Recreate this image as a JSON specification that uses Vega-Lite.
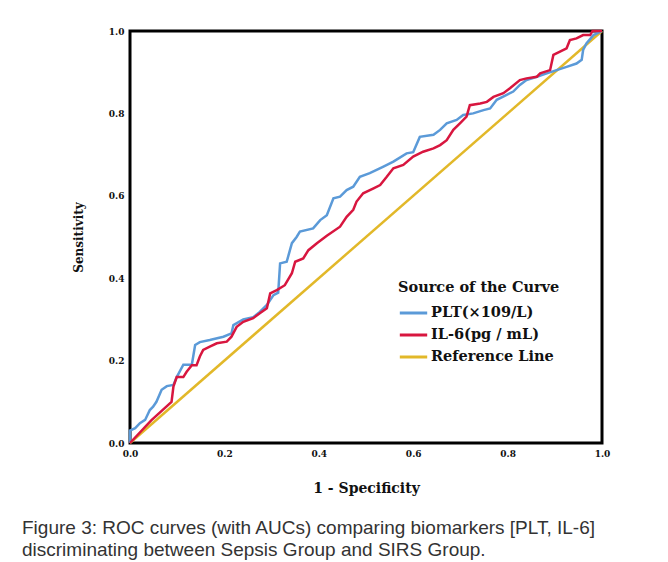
{
  "$schema": "https://vega.github.io/schema/vega-lite/v6.json",
  "width": 472,
  "height": 412,
  "autosize": {"type": "none"},
  "padding": {"left": 130, "top": 31, "right": 66, "bottom": 119},
  "background": "white",
  "title": {
    "text": ["Figure 3: ROC curves (with AUCs) comparing biomarkers [PLT, IL-6]", "discriminating between Sepsis Group and SIRS Group."],
    "orient": "bottom",
    "anchor": "start",
    "frame": "group",
    "dx": -108,
    "offset": 24,
    "font": "Liberation Sans",
    "fontSize": 19,
    "fontWeight": "normal",
    "color": "#333333",
    "lineHeight": 22
  },
  "layer": [
    {
      "data": {"values": [
        {"series": "Reference Line", "fpr": 0, "tpr": 0, "i": 0},
        {"series": "Reference Line", "fpr": 1, "tpr": 1, "i": 1}
      ]},
      "mark": {"type": "line", "strokeWidth": 2.5},
      "encoding": {
        "x": {"field": "fpr", "type": "quantitative"},
        "y": {"field": "tpr", "type": "quantitative"},
        "color": {"field": "series", "type": "nominal"},
        "order": {"field": "i", "type": "quantitative"}
      }
    },
    {
      "data": {"values": [
        {"series": "PLT(×109/L)", "i": 0, "fpr": 0, "tpr": 0},
        {"series": "PLT(×109/L)", "i": 1, "fpr": 0, "tpr": 0.03},
        {"series": "PLT(×109/L)", "i": 2, "fpr": 0.011, "tpr": 0.036},
        {"series": "PLT(×109/L)", "i": 3, "fpr": 0.021, "tpr": 0.048},
        {"series": "PLT(×109/L)", "i": 4, "fpr": 0.032, "tpr": 0.056},
        {"series": "PLT(×109/L)", "i": 5, "fpr": 0.042, "tpr": 0.08},
        {"series": "PLT(×109/L)", "i": 6, "fpr": 0.049, "tpr": 0.088},
        {"series": "PLT(×109/L)", "i": 7, "fpr": 0.056, "tpr": 0.1},
        {"series": "PLT(×109/L)", "i": 8, "fpr": 0.067, "tpr": 0.129},
        {"series": "PLT(×109/L)", "i": 9, "fpr": 0.078, "tpr": 0.138},
        {"series": "PLT(×109/L)", "i": 10, "fpr": 0.092, "tpr": 0.141},
        {"series": "PLT(×109/L)", "i": 11, "fpr": 0.099, "tpr": 0.16},
        {"series": "PLT(×109/L)", "i": 12, "fpr": 0.113, "tpr": 0.19},
        {"series": "PLT(×109/L)", "i": 13, "fpr": 0.131, "tpr": 0.19},
        {"series": "PLT(×109/L)", "i": 14, "fpr": 0.138, "tpr": 0.238},
        {"series": "PLT(×109/L)", "i": 15, "fpr": 0.148, "tpr": 0.245},
        {"series": "PLT(×109/L)", "i": 16, "fpr": 0.169, "tpr": 0.25},
        {"series": "PLT(×109/L)", "i": 17, "fpr": 0.198, "tpr": 0.258},
        {"series": "PLT(×109/L)", "i": 18, "fpr": 0.215, "tpr": 0.266},
        {"series": "PLT(×109/L)", "i": 19, "fpr": 0.219, "tpr": 0.286},
        {"series": "PLT(×109/L)", "i": 20, "fpr": 0.24, "tpr": 0.3},
        {"series": "PLT(×109/L)", "i": 21, "fpr": 0.261, "tpr": 0.305},
        {"series": "PLT(×109/L)", "i": 22, "fpr": 0.275, "tpr": 0.318},
        {"series": "PLT(×109/L)", "i": 23, "fpr": 0.29, "tpr": 0.335},
        {"series": "PLT(×109/L)", "i": 24, "fpr": 0.304, "tpr": 0.359},
        {"series": "PLT(×109/L)", "i": 25, "fpr": 0.314, "tpr": 0.365},
        {"series": "PLT(×109/L)", "i": 26, "fpr": 0.318, "tpr": 0.436},
        {"series": "PLT(×109/L)", "i": 27, "fpr": 0.332, "tpr": 0.44},
        {"series": "PLT(×109/L)", "i": 28, "fpr": 0.343, "tpr": 0.485},
        {"series": "PLT(×109/L)", "i": 29, "fpr": 0.353, "tpr": 0.5},
        {"series": "PLT(×109/L)", "i": 30, "fpr": 0.36, "tpr": 0.513},
        {"series": "PLT(×109/L)", "i": 31, "fpr": 0.388, "tpr": 0.521},
        {"series": "PLT(×109/L)", "i": 32, "fpr": 0.403, "tpr": 0.541},
        {"series": "PLT(×109/L)", "i": 33, "fpr": 0.417, "tpr": 0.553},
        {"series": "PLT(×109/L)", "i": 34, "fpr": 0.431, "tpr": 0.594},
        {"series": "PLT(×109/L)", "i": 35, "fpr": 0.445, "tpr": 0.598},
        {"series": "PLT(×109/L)", "i": 36, "fpr": 0.459, "tpr": 0.614},
        {"series": "PLT(×109/L)", "i": 37, "fpr": 0.473, "tpr": 0.622},
        {"series": "PLT(×109/L)", "i": 38, "fpr": 0.487, "tpr": 0.646},
        {"series": "PLT(×109/L)", "i": 39, "fpr": 0.508, "tpr": 0.655},
        {"series": "PLT(×109/L)", "i": 40, "fpr": 0.537, "tpr": 0.671},
        {"series": "PLT(×109/L)", "i": 41, "fpr": 0.558, "tpr": 0.683},
        {"series": "PLT(×109/L)", "i": 42, "fpr": 0.586, "tpr": 0.703},
        {"series": "PLT(×109/L)", "i": 43, "fpr": 0.6, "tpr": 0.706},
        {"series": "PLT(×109/L)", "i": 44, "fpr": 0.614, "tpr": 0.743},
        {"series": "PLT(×109/L)", "i": 45, "fpr": 0.643, "tpr": 0.748},
        {"series": "PLT(×109/L)", "i": 46, "fpr": 0.657, "tpr": 0.76},
        {"series": "PLT(×109/L)", "i": 47, "fpr": 0.671, "tpr": 0.776},
        {"series": "PLT(×109/L)", "i": 48, "fpr": 0.692, "tpr": 0.784},
        {"series": "PLT(×109/L)", "i": 49, "fpr": 0.706, "tpr": 0.796},
        {"series": "PLT(×109/L)", "i": 50, "fpr": 0.727, "tpr": 0.8},
        {"series": "PLT(×109/L)", "i": 51, "fpr": 0.749, "tpr": 0.808},
        {"series": "PLT(×109/L)", "i": 52, "fpr": 0.763, "tpr": 0.812},
        {"series": "PLT(×109/L)", "i": 53, "fpr": 0.777, "tpr": 0.833},
        {"series": "PLT(×109/L)", "i": 54, "fpr": 0.798, "tpr": 0.845},
        {"series": "PLT(×109/L)", "i": 55, "fpr": 0.812, "tpr": 0.853},
        {"series": "PLT(×109/L)", "i": 56, "fpr": 0.826, "tpr": 0.869},
        {"series": "PLT(×109/L)", "i": 57, "fpr": 0.84, "tpr": 0.881},
        {"series": "PLT(×109/L)", "i": 58, "fpr": 0.862, "tpr": 0.889},
        {"series": "PLT(×109/L)", "i": 59, "fpr": 0.883, "tpr": 0.897},
        {"series": "PLT(×109/L)", "i": 60, "fpr": 0.904, "tpr": 0.905},
        {"series": "PLT(×109/L)", "i": 61, "fpr": 0.925, "tpr": 0.913},
        {"series": "PLT(×109/L)", "i": 62, "fpr": 0.946, "tpr": 0.921},
        {"series": "PLT(×109/L)", "i": 63, "fpr": 0.957, "tpr": 0.93},
        {"series": "PLT(×109/L)", "i": 64, "fpr": 0.96, "tpr": 0.954},
        {"series": "PLT(×109/L)", "i": 65, "fpr": 0.967, "tpr": 0.97},
        {"series": "PLT(×109/L)", "i": 66, "fpr": 0.982, "tpr": 0.99},
        {"series": "PLT(×109/L)", "i": 67, "fpr": 1, "tpr": 1},
        {"series": "IL-6(pg / mL)", "i": 0, "fpr": 0, "tpr": 0},
        {"series": "IL-6(pg / mL)", "i": 1, "fpr": 0.045, "tpr": 0.055},
        {"series": "IL-6(pg / mL)", "i": 2, "fpr": 0.088, "tpr": 0.1},
        {"series": "IL-6(pg / mL)", "i": 3, "fpr": 0.092, "tpr": 0.137},
        {"series": "IL-6(pg / mL)", "i": 4, "fpr": 0.099, "tpr": 0.16},
        {"series": "IL-6(pg / mL)", "i": 5, "fpr": 0.113, "tpr": 0.16},
        {"series": "IL-6(pg / mL)", "i": 6, "fpr": 0.12, "tpr": 0.173},
        {"series": "IL-6(pg / mL)", "i": 7, "fpr": 0.131, "tpr": 0.189},
        {"series": "IL-6(pg / mL)", "i": 8, "fpr": 0.141, "tpr": 0.189},
        {"series": "IL-6(pg / mL)", "i": 9, "fpr": 0.148, "tpr": 0.21},
        {"series": "IL-6(pg / mL)", "i": 10, "fpr": 0.155, "tpr": 0.226},
        {"series": "IL-6(pg / mL)", "i": 11, "fpr": 0.169, "tpr": 0.234},
        {"series": "IL-6(pg / mL)", "i": 12, "fpr": 0.184, "tpr": 0.242},
        {"series": "IL-6(pg / mL)", "i": 13, "fpr": 0.205, "tpr": 0.246},
        {"series": "IL-6(pg / mL)", "i": 14, "fpr": 0.215, "tpr": 0.258},
        {"series": "IL-6(pg / mL)", "i": 15, "fpr": 0.226, "tpr": 0.282},
        {"series": "IL-6(pg / mL)", "i": 16, "fpr": 0.24, "tpr": 0.294},
        {"series": "IL-6(pg / mL)", "i": 17, "fpr": 0.261, "tpr": 0.303},
        {"series": "IL-6(pg / mL)", "i": 18, "fpr": 0.275, "tpr": 0.315},
        {"series": "IL-6(pg / mL)", "i": 19, "fpr": 0.29, "tpr": 0.327},
        {"series": "IL-6(pg / mL)", "i": 20, "fpr": 0.297, "tpr": 0.363},
        {"series": "IL-6(pg / mL)", "i": 21, "fpr": 0.311, "tpr": 0.371},
        {"series": "IL-6(pg / mL)", "i": 22, "fpr": 0.328, "tpr": 0.383},
        {"series": "IL-6(pg / mL)", "i": 23, "fpr": 0.343, "tpr": 0.412},
        {"series": "IL-6(pg / mL)", "i": 24, "fpr": 0.35, "tpr": 0.44},
        {"series": "IL-6(pg / mL)", "i": 25, "fpr": 0.367, "tpr": 0.448},
        {"series": "IL-6(pg / mL)", "i": 26, "fpr": 0.378, "tpr": 0.468},
        {"series": "IL-6(pg / mL)", "i": 27, "fpr": 0.396, "tpr": 0.485},
        {"series": "IL-6(pg / mL)", "i": 28, "fpr": 0.417, "tpr": 0.503},
        {"series": "IL-6(pg / mL)", "i": 29, "fpr": 0.445, "tpr": 0.525},
        {"series": "IL-6(pg / mL)", "i": 30, "fpr": 0.459, "tpr": 0.549},
        {"series": "IL-6(pg / mL)", "i": 31, "fpr": 0.473, "tpr": 0.566},
        {"series": "IL-6(pg / mL)", "i": 32, "fpr": 0.48, "tpr": 0.586},
        {"series": "IL-6(pg / mL)", "i": 33, "fpr": 0.494, "tpr": 0.606},
        {"series": "IL-6(pg / mL)", "i": 34, "fpr": 0.516, "tpr": 0.618},
        {"series": "IL-6(pg / mL)", "i": 35, "fpr": 0.53, "tpr": 0.626},
        {"series": "IL-6(pg / mL)", "i": 36, "fpr": 0.544, "tpr": 0.646},
        {"series": "IL-6(pg / mL)", "i": 37, "fpr": 0.558, "tpr": 0.667},
        {"series": "IL-6(pg / mL)", "i": 38, "fpr": 0.579, "tpr": 0.675},
        {"series": "IL-6(pg / mL)", "i": 39, "fpr": 0.6, "tpr": 0.695},
        {"series": "IL-6(pg / mL)", "i": 40, "fpr": 0.621, "tpr": 0.707},
        {"series": "IL-6(pg / mL)", "i": 41, "fpr": 0.643, "tpr": 0.715},
        {"series": "IL-6(pg / mL)", "i": 42, "fpr": 0.657, "tpr": 0.723},
        {"series": "IL-6(pg / mL)", "i": 43, "fpr": 0.671, "tpr": 0.735},
        {"series": "IL-6(pg / mL)", "i": 44, "fpr": 0.685, "tpr": 0.76},
        {"series": "IL-6(pg / mL)", "i": 45, "fpr": 0.699, "tpr": 0.776},
        {"series": "IL-6(pg / mL)", "i": 46, "fpr": 0.713, "tpr": 0.792},
        {"series": "IL-6(pg / mL)", "i": 47, "fpr": 0.72, "tpr": 0.82},
        {"series": "IL-6(pg / mL)", "i": 48, "fpr": 0.742, "tpr": 0.824},
        {"series": "IL-6(pg / mL)", "i": 49, "fpr": 0.756, "tpr": 0.828},
        {"series": "IL-6(pg / mL)", "i": 50, "fpr": 0.77, "tpr": 0.84},
        {"series": "IL-6(pg / mL)", "i": 51, "fpr": 0.791, "tpr": 0.849},
        {"series": "IL-6(pg / mL)", "i": 52, "fpr": 0.805, "tpr": 0.861},
        {"series": "IL-6(pg / mL)", "i": 53, "fpr": 0.826, "tpr": 0.881},
        {"series": "IL-6(pg / mL)", "i": 54, "fpr": 0.84, "tpr": 0.885},
        {"series": "IL-6(pg / mL)", "i": 55, "fpr": 0.862, "tpr": 0.889},
        {"series": "IL-6(pg / mL)", "i": 56, "fpr": 0.869, "tpr": 0.897},
        {"series": "IL-6(pg / mL)", "i": 57, "fpr": 0.89, "tpr": 0.905},
        {"series": "IL-6(pg / mL)", "i": 58, "fpr": 0.897, "tpr": 0.942},
        {"series": "IL-6(pg / mL)", "i": 59, "fpr": 0.911, "tpr": 0.95},
        {"series": "IL-6(pg / mL)", "i": 60, "fpr": 0.925, "tpr": 0.958},
        {"series": "IL-6(pg / mL)", "i": 61, "fpr": 0.932, "tpr": 0.978},
        {"series": "IL-6(pg / mL)", "i": 62, "fpr": 0.946, "tpr": 0.982},
        {"series": "IL-6(pg / mL)", "i": 63, "fpr": 0.96, "tpr": 0.99},
        {"series": "IL-6(pg / mL)", "i": 64, "fpr": 0.975, "tpr": 0.99},
        {"series": "IL-6(pg / mL)", "i": 65, "fpr": 0.98, "tpr": 1},
        {"series": "IL-6(pg / mL)", "i": 66, "fpr": 1, "tpr": 1}
      ]},
      "mark": {"type": "line", "strokeWidth": 2.5},
      "encoding": {
        "x": {"field": "fpr", "type": "quantitative"},
        "y": {"field": "tpr", "type": "quantitative"},
        "color": {"field": "series", "type": "nominal"},
        "order": {"field": "i", "type": "quantitative"}
      }
    }
  ],
  "resolve": {"scale": {"color": "shared"}},
  "encoding": {
    "x": {
      "field": "fpr", "type": "quantitative",
      "scale": {"domain": [0, 1], "nice": false},
      "axis": {"title": "1 - Specificity", "values": [0, 0.2, 0.4, 0.6, 0.8, 1], "format": ".1f", "titlePadding": 23, "titleFontSize": 14, "labelFlush": false}
    },
    "y": {
      "field": "tpr", "type": "quantitative",
      "scale": {"domain": [0, 1], "nice": false},
      "axis": {"title": "Sensitivity", "values": [0, 0.2, 0.4, 0.6, 0.8, 1], "format": ".1f", "titlePadding": 23, "titleFontSize": 12, "labelFlush": false}
    },
    "color": {
      "field": "series", "type": "nominal",
      "scale": {"domain": ["PLT(×109/L)", "IL-6(pg / mL)", "Reference Line"], "range": ["#5b9ad8", "#d8163f", "#e2b829"]},
      "legend": {
        "title": "Source of the Curve",
        "orient": "none",
        "legendX": 268,
        "legendY": 250,
        "symbolType": "stroke",
        "symbolSize": 750,
        "symbolStrokeWidth": 3,
        "labelFont": "DejaVu Serif",
        "labelFontSize": 14.5,
        "labelFontWeight": "bold",
        "labelColor": "#111111",
        "labelOffset": 2,
        "titleFont": "DejaVu Serif",
        "titleFontSize": 14.5,
        "titleFontWeight": "bold",
        "titleColor": "#111111",
        "titlePadding": 2,
        "rowPadding": -3
      }
    }
  },
  "config": {
    "view": {"stroke": "#000000", "strokeWidth": 3},
    "axis": {
      "domain": false,
      "ticks": false,
      "grid": false,
      "labelFont": "DejaVu Serif",
      "labelFontSize": 9,
      "labelFontWeight": "bold",
      "labelColor": "#111111",
      "labelPadding": 6,
      "titleFont": "DejaVu Serif",
      "titleFontWeight": "bold",
      "titleColor": "#111111"
    }
  }
}
